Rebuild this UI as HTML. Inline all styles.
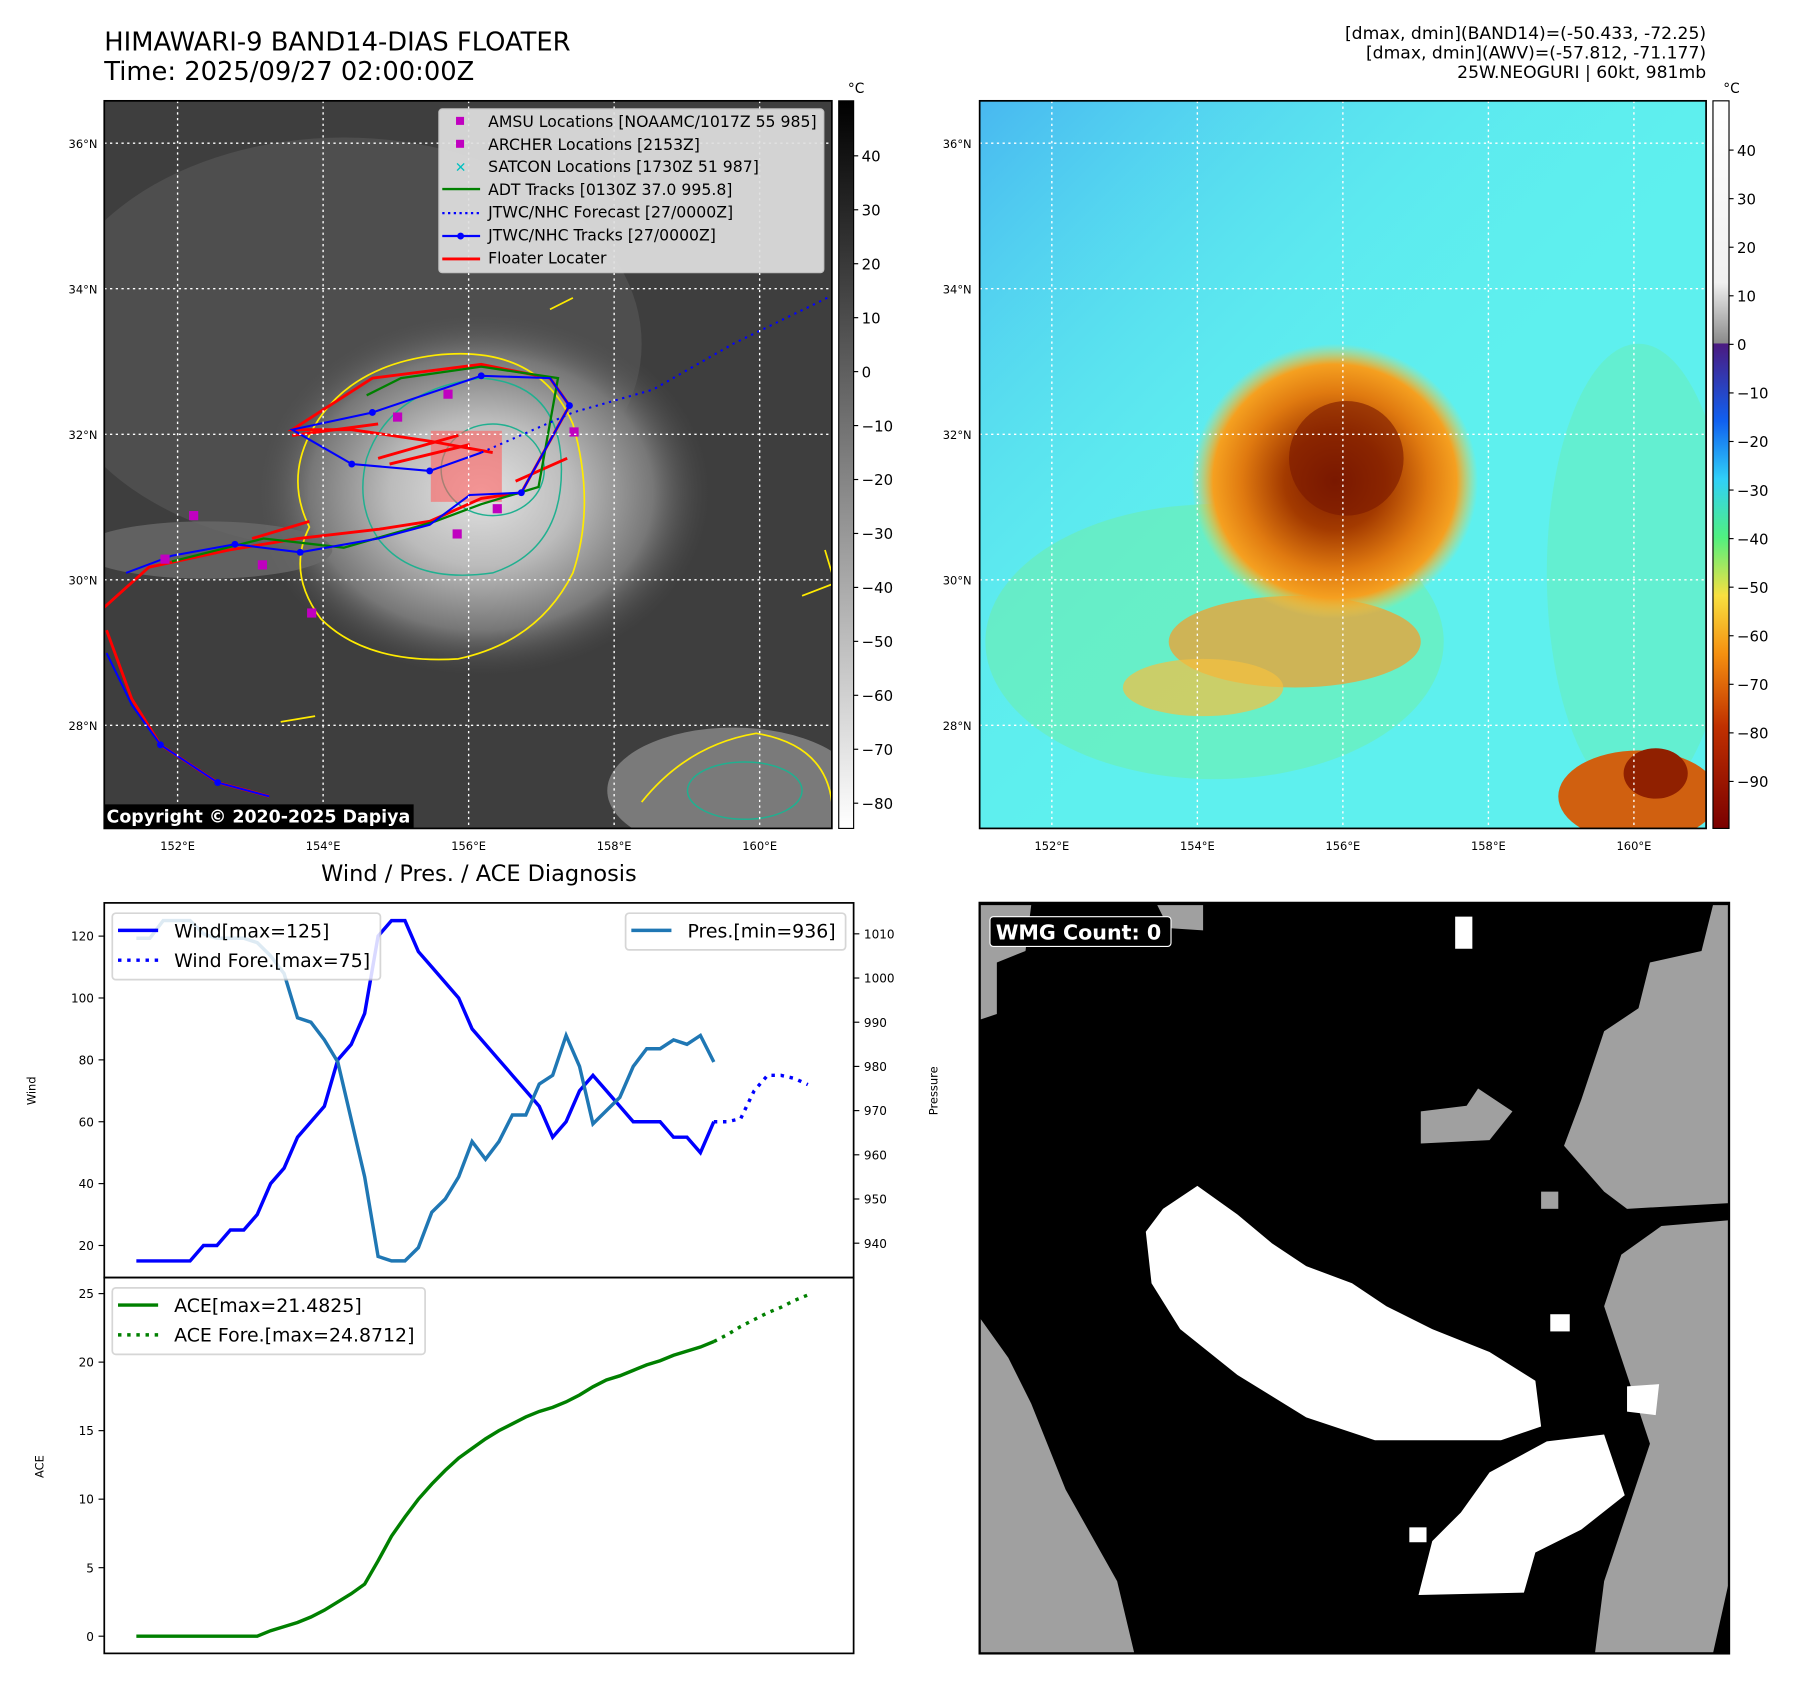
<!DOCTYPE html>
<html><head><meta charset="utf-8"><style>
html,body{margin:0;padding:0;background:#fff}
svg{display:block}
text{font-family:"DejaVu Sans","Liberation Sans",sans-serif}
</style></head><body>
<svg id="root" width="1797" height="1690" viewBox="0 0 1797 1690" xmlns="http://www.w3.org/2000/svg">
<defs>
<radialGradient id="irg" cx="0.5" cy="0.5" r="0.5">
<stop offset="0" stop-color="#e2e2e2"/><stop offset="0.4" stop-color="#bbbbbb"/><stop offset="0.75" stop-color="#777"/><stop offset="1" stop-color="#4a4a4a" stop-opacity="0"/></radialGradient>
<radialGradient id="storm" cx="0.5" cy="0.5" r="0.5">
<stop offset="0" stop-color="#7a1a00"/><stop offset="0.35" stop-color="#a33a00"/><stop offset="0.65" stop-color="#e07a10"/><stop offset="0.85" stop-color="#f5a020"/><stop offset="1" stop-color="#f8d040" stop-opacity="0"/></radialGradient>
<linearGradient id="bluetint" x1="0" y1="0" x2="1" y2="1">
<stop offset="0" stop-color="#48b8f0"/><stop offset="0.35" stop-color="#5ae0f0" stop-opacity="0.4"/><stop offset="0.6" stop-color="#5ff0f0" stop-opacity="0"/></linearGradient>
<linearGradient id="cbg" x1="0" y1="0" x2="0" y2="1"><stop offset="0" stop-color="#000"/><stop offset="1" stop-color="#fff"/></linearGradient>
<linearGradient id="cbc" x1="0" y1="0" x2="0" y2="1">
<stop offset="0" stop-color="#ffffff"/><stop offset="0.25" stop-color="#f0f0f0"/><stop offset="0.333" stop-color="#8a8a8a"/><stop offset="0.334" stop-color="#4b1a80"/>
<stop offset="0.44" stop-color="#1060f0"/><stop offset="0.52" stop-color="#30d0f8"/><stop offset="0.6" stop-color="#50f080"/>
<stop offset="0.68" stop-color="#f8e040"/><stop offset="0.76" stop-color="#f59010"/><stop offset="0.86" stop-color="#c03000"/><stop offset="1" stop-color="#7a0000"/></linearGradient>
</defs>
<g transform="scale(1.1458)">
<text x="91" y="44" font-size="22.5">HIMAWARI-9 BAND14-DIAS FLOATER</text>
<text x="91" y="70" font-size="22.5">Time: 2025/09/27 02:00:00Z</text>
<g font-size="15" text-anchor="end">
<text x="1489" y="34">[dmax, dmin](BAND14)=(-50.433, -72.25)</text>
<text x="1489" y="51">[dmax, dmin](AWV)=(-57.812, -71.177)</text>
<text x="1489" y="68">25W.NEOGURI | 60kt, 981mb</text>
</g>

<g>
<clipPath id="c1"><rect x="91" y="88" width="635" height="635"/></clipPath>
<g clip-path="url(#c1)">
<rect x="91" y="88" width="635" height="635" fill="#3e3e3e"/>
<ellipse cx="300" cy="300" rx="260" ry="180" fill="#555" opacity="0.7"/>
<ellipse cx="420" cy="430" rx="200" ry="160" fill="url(#irg)"/>
<ellipse cx="640" cy="690" rx="110" ry="55" fill="#7a7a7a"/>
<ellipse cx="180" cy="480" rx="110" ry="25" fill="#6a6a6a" opacity="0.8"/>
<g fill="none" stroke="#ffeb00" stroke-width="1.5">
<path d="M270 380 Q300 320 380 310 Q470 300 500 370 Q520 440 500 500 Q470 560 400 575 Q320 580 280 540 Q250 500 270 460 Q250 420 270 380Z"/>
<path d="M560 700 Q600 650 660 640 Q720 650 726 700 M720 480 L726 500 M700 520 L726 510 M245 630 L275 625 M480 270 L500 260"/>
</g>
<g fill="none" stroke="#20b090" stroke-width="1.3">
<path d="M320 400 Q340 340 420 330 Q490 335 490 410 Q490 480 430 500 Q360 510 330 470 Q310 440 320 400Z"/>
<ellipse cx="430" cy="410" rx="45" ry="40"/>
<ellipse cx="650" cy="690" rx="50" ry="25"/>
</g>
<rect x="376" y="376" width="62" height="62" fill="#ff6060" opacity="0.6"/>
<g fill="none" stroke="#ff0000" stroke-width="2.5">
<polyline points="91,530 130,495 200,480 260,470 330,462 375,455 420,435 455,430 497,354 480,330 420,318 325,330 255,375 307,375 375,385 430,395"/>
<polyline points="93,550 115,610 140,650 190,683 235,695"/>
<path d="M330 400 L400 380 M340 405 L410 388 M450 420 L495 400 M220 470 L270 455 M255 380 L330 370"/>
</g>
<g fill="none" stroke="#008000" stroke-width="2">
<polyline points="150,490 230,470 300,478 380,455 420,440 470,425 487,330 420,320 350,330 320,345"/>
</g>
<g fill="none" stroke="#0000ff" stroke-width="1.8">
<polyline points="93,570 115,615 140,650 190,683 235,695"/>
<polyline points="110,500 150,485 205,475 262,482 330,470 375,458 410,432 455,430 497,354 480,330 420,328 325,360 255,375 307,405 375,411 420,395"/>
<polyline points="420,395 500,360 570,340 640,300 726,258" stroke-dasharray="2,4"/>
</g>
<g fill="#0000ff"><circle cx="497" cy="354" r="3"/><circle cx="455" cy="430" r="3"/><circle cx="375" cy="411" r="3"/><circle cx="307" cy="405" r="3"/><circle cx="262" cy="482" r="3"/><circle cx="205" cy="475" r="3"/><circle cx="420" cy="328" r="3"/><circle cx="325" cy="360" r="3"/><circle cx="140" cy="650" r="3"/><circle cx="190" cy="683" r="3"/></g>
<g fill="#c000c0"><rect x="165" y="446" width="8" height="8"/><rect x="225" y="489" width="8" height="8"/><rect x="268" y="531" width="8" height="8"/><rect x="343" y="360" width="8" height="8"/><rect x="387" y="340" width="8" height="8"/><rect x="430" y="440" width="8" height="8"/><rect x="497" y="373" width="8" height="8"/><rect x="395" y="462" width="8" height="8"/><rect x="140" y="484" width="8" height="8"/></g>
<g stroke="#fff" stroke-width="1.2" stroke-dasharray="2,3">
<line x1="155" y1="88" x2="155" y2="723"/><line x1="282" y1="88" x2="282" y2="723"/><line x1="409" y1="88" x2="409" y2="723"/><line x1="536" y1="88" x2="536" y2="723"/><line x1="663" y1="88" x2="663" y2="723"/>
<line x1="91" y1="125" x2="726" y2="125"/><line x1="91" y1="252" x2="726" y2="252"/><line x1="91" y1="379" x2="726" y2="379"/><line x1="91" y1="506" x2="726" y2="506"/><line x1="91" y1="633" x2="726" y2="633"/>
</g>
</g>
<rect x="91" y="88" width="635" height="635" fill="none" stroke="#000" stroke-width="1.5"/>
<g>
<rect x="383" y="95" width="336" height="143" rx="3" fill="#e0e0e0" opacity="0.92" stroke="#ccc"/>
<g font-size="13.7">
<rect x="398" y="102" width="7" height="7" fill="#c000c0"/><text x="426" y="111">AMSU Locations [NOAAMC/1017Z 55 985]</text>
<rect x="398" y="122" width="7" height="7" fill="#c000c0"/><text x="426" y="131">ARCHER Locations [2153Z]</text>
<text x="397" y="150" fill="#00c0c0" font-weight="bold" font-size="12">✕</text><text x="426" y="150">SATCON Locations [1730Z 51 987]</text>
<line x1="386" y1="165" x2="419" y2="165" stroke="#008000" stroke-width="2"/><text x="426" y="170">ADT Tracks [0130Z 37.0 995.8]</text>
<line x1="386" y1="186" x2="419" y2="186" stroke="#0000ff" stroke-width="2" stroke-dasharray="2,3"/><text x="426" y="190">JTWC/NHC Forecast [27/0000Z]</text>
<line x1="386" y1="206" x2="419" y2="206" stroke="#0000ff" stroke-width="2"/><circle cx="402" cy="206" r="3" fill="#0000ff"/><text x="426" y="210">JTWC/NHC Tracks [27/0000Z]</text>
<line x1="386" y1="226" x2="419" y2="226" stroke="#ff0000" stroke-width="2.5"/><text x="426" y="230">Floater Locater</text>
</g></g>
<rect x="91" y="702" width="270" height="21" fill="#000"/>
<text x="93" y="718" fill="#fff" font-size="15.2" font-weight="bold">Copyright © 2020-2025 Dapiya</text>
<g font-size="10" text-anchor="end">
<text x="85" y="129">36°N</text><text x="85" y="256">34°N</text><text x="85" y="383">32°N</text><text x="85" y="510">30°N</text><text x="85" y="637">28°N</text></g>
<g font-size="10" text-anchor="middle">
<text x="155" y="742">152°E</text><text x="282" y="742">154°E</text><text x="409" y="742">156°E</text><text x="536" y="742">158°E</text><text x="663" y="742">160°E</text></g>
</g>
<g>
<rect x="732" y="88" width="13" height="635" fill="url(#cbg)" stroke="#000"/>
<text x="740" y="81" font-size="12">°C</text>
<g font-size="13" id="cb1"></g>
</g>

<g>
<clipPath id="c2"><rect x="855" y="88" width="634" height="635"/></clipPath>
<g clip-path="url(#c2)">
<rect x="855" y="88" width="634" height="635" fill="#5ef0ee"/>
<rect x="855" y="88" width="634" height="635" fill="url(#bluetint)"/>
<ellipse cx="1060" cy="560" rx="200" ry="120" fill="#78f080" opacity="0.35"/>
<ellipse cx="1430" cy="500" rx="80" ry="200" fill="#70ee90" opacity="0.3"/>
<ellipse cx="1130" cy="560" rx="110" ry="40" fill="#f0a030" opacity="0.75"/>
<ellipse cx="1050" cy="600" rx="70" ry="25" fill="#f5c040" opacity="0.7"/>
<ellipse cx="1165" cy="420" rx="125" ry="120" fill="url(#storm)"/>
<ellipse cx="1175" cy="400" rx="50" ry="50" fill="#7a1800" opacity="0.6"/>
<ellipse cx="1430" cy="695" rx="70" ry="40" fill="#d06010"/>
<ellipse cx="1445" cy="675" rx="28" ry="22" fill="#902000"/>
<g stroke="#fff" stroke-width="1.2" stroke-dasharray="2,3">
<line x1="918" y1="88" x2="918" y2="723"/><line x1="1045" y1="88" x2="1045" y2="723"/><line x1="1172" y1="88" x2="1172" y2="723"/><line x1="1299" y1="88" x2="1299" y2="723"/><line x1="1426" y1="88" x2="1426" y2="723"/>
<line x1="855" y1="125" x2="1489" y2="125"/><line x1="855" y1="252" x2="1489" y2="252"/><line x1="855" y1="379" x2="1489" y2="379"/><line x1="855" y1="506" x2="1489" y2="506"/><line x1="855" y1="633" x2="1489" y2="633"/>
</g></g>
<rect x="855" y="88" width="634" height="635" fill="none" stroke="#000" stroke-width="1.5"/>
<g font-size="10" text-anchor="end">
<text x="848" y="129">36°N</text><text x="848" y="256">34°N</text><text x="848" y="383">32°N</text><text x="848" y="510">30°N</text><text x="848" y="637">28°N</text></g>
<g font-size="10" text-anchor="middle">
<text x="918" y="742">152°E</text><text x="1045" y="742">154°E</text><text x="1172" y="742">156°E</text><text x="1299" y="742">158°E</text><text x="1426" y="742">160°E</text></g>
</g>
<g>
<rect x="1495" y="88" width="14" height="635" fill="url(#cbc)" stroke="#000"/>
<text x="1504" y="81" font-size="12">°C</text>
<g font-size="13" id="cb2"></g>
</g>

<text x="418" y="769" font-size="19.6" text-anchor="middle">Wind / Pres. / ACE Diagnosis</text>
<g id="windPanel"></g>
<g id="acePanel"></g>
<rect x="91" y="788" width="654" height="327" fill="none" stroke="#000" stroke-width="1.5"/>
<rect x="91" y="1115" width="654" height="328" fill="none" stroke="#000" stroke-width="1.5"/>
<text transform="translate(31,952) rotate(-90)" font-size="10" text-anchor="middle">Wind</text>
<text transform="translate(818,952) rotate(-90)" font-size="10" text-anchor="middle">Pressure</text>
<text transform="translate(38,1280) rotate(-90)" font-size="10" text-anchor="middle">ACE</text>

<g>
<rect x="855" y="788" width="654" height="655" fill="#000"/>
<g fill="#a0a0a0">
<polygon points="855,1150 880,1185 900,1225 930,1300 975,1380 990,1443 855,1443"/>
<polygon points="855,790 900,790 895,830 870,840 870,885 855,890"/>
<polygon points="1050,790 1010,790 1020,810 1050,812"/>
<polygon points="1509,790 1495,790 1485,830 1440,840 1430,880 1400,900 1380,960 1365,1000 1400,1040 1420,1055 1509,1050"/>
<polygon points="1509,1065 1450,1070 1415,1095 1400,1140 1420,1200 1440,1260 1420,1320 1400,1380 1392,1443 1495,1443 1509,1380"/>
<polygon points="1240,970 1280,965 1290,950 1320,970 1300,995 1240,998"/>
<rect x="1345" y="1040" width="15" height="15"/>
</g>
<g fill="#fff">
<polygon points="1000,1075 1015,1055 1045,1035 1080,1060 1110,1085 1140,1105 1180,1120 1210,1140 1250,1160 1300,1180 1340,1205 1345,1245 1310,1257 1200,1257 1140,1237 1080,1200 1030,1160 1005,1120"/>
<polygon points="1238,1392 1250,1345 1275,1320 1300,1285 1350,1258 1400,1252 1418,1305 1380,1335 1340,1355 1330,1390"/>
<polygon points="1270,800 1285,800 1285,828 1270,828"/>
<polygon points="1420,1210 1448,1208 1445,1235 1420,1232"/>
<rect x="1353" y="1147" width="17" height="15"/>
<rect x="1230" y="1333" width="15" height="13"/>
</g>
<rect x="855" y="788" width="654" height="655" fill="none" stroke="#000" stroke-width="2"/>
<rect x="864" y="800" width="158" height="26" fill="#000" stroke="#fff" stroke-width="1" rx="3"/>
<text x="869" y="820" fill="#fff" font-size="18" font-weight="bold">WMG Count: 0</text>
</g>
</g>
</svg>
<script>
const windVals=[15,15,15,15,15,20,20,25,25,30,40,45,55,60,65,80,85,95,120,125,125,115,110,105,100,90,85,80,75,70,65,55,60,70,75,70,65,60,60,60,55,55,50,60];
const windFore=[60,60,61,70,75,75,74,72];
const presVals=[1009,1009,1013,1013,1013,1010,1009,1009,1009,1008,1005,1001,991,990,986,981,968,955,937,936,936,939,947,950,955,963,959,963,969,969,976,978,987,980,967,970,973,980,984,984,986,985,987,981];
const aceVals=[0,0,0,0,0,0,0,0,0,0,0.4,0.7,1.0,1.4,1.9,2.5,3.1,3.8,5.5,7.3,8.7,10,11.1,12.1,13,13.7,14.4,15,15.5,16,16.4,16.7,17.1,17.6,18.2,18.7,19,19.4,19.8,20.1,20.5,20.8,21.1,21.5];
const aceFore=[21.5,22.0,22.6,23.1,23.6,24.0,24.5,24.9];
const windTicks=[20,40,60,80,100,120];
const presTicks=[940,950,960,970,980,990,1000,1010];
const aceTicks=[0,5,10,15,20,25];
const cb1Ticks=[40,30,20,10,0,-10,-20,-30,-40,-50,-60,-70,-80];
const cb2Ticks=[40,30,20,10,0,-10,-20,-30,-40,-50,-60,-70,-80,-90];

const NS='http://www.w3.org/2000/svg';
const foreStart=windVals.length-1;
function xs(i){return 119+(623-119)/43*i;}
function yw(v){return 1087+(v-20)*(817-1087)/100;}
function yp(v){return 1085+(v-940)*(815-1085)/70;}
function ya(v){return 1428+v*(1129-1428)/25;}
function mk(tag,attrs,parent){const e=document.createElementNS(NS,tag);for(const k in attrs)e.setAttribute(k,attrs[k]);parent.appendChild(e);return e;}
function pts(arr,off,yf){return arr.map((v,i)=>xs(i+off)+','+yf(v)).join(' ');}

const wp=document.getElementById('windPanel');
const ap=document.getElementById('acePanel');
windTicks.forEach(t=>{const g=mk('g',{},wp);


mk('line',{x1:86,x2:91,y1:yw(t),y2:yw(t),stroke:'#000'},g);const tx=mk('text',{x:82,y:yw(t)+4,'font-size':10.5,'text-anchor':'end'},g);tx.textContent=t;});
presTicks.forEach(t=>{const g=mk('g',{},wp);


mk('line',{x1:745,x2:750,y1:yp(t),y2:yp(t),stroke:'#000'},g);const tx=mk('text',{x:754,y:yp(t)+4,'font-size':10.5},g);tx.textContent=t;});
aceTicks.forEach(t=>{const g=mk('g',{},ap);


mk('line',{x1:86,x2:91,y1:ya(t),y2:ya(t),stroke:'#000'},g);const tx=mk('text',{x:82,y:ya(t)+4,'font-size':10.5,'text-anchor':'end'},g);tx.textContent=t;});
let e;
e=mk('polyline',{points:pts(windVals,0,yw),fill:'none',stroke:'#0000ff','stroke-width':3},wp);


e=mk('polyline',{points:pts(windFore,foreStart,yw),fill:'none',stroke:'#0000ff','stroke-width':3,'stroke-dasharray':'3,5'},wp);


e=mk('polyline',{points:pts(presVals,0,yp),fill:'none',stroke:'#1f77b4','stroke-width':3},wp);


e=mk('polyline',{points:pts(aceVals,0,ya),fill:'none',stroke:'#008000','stroke-width':3},ap);


e=mk('polyline',{points:pts(aceFore,foreStart,ya),fill:'none',stroke:'#008000','stroke-width':3,'stroke-dasharray':'3,5'},ap);


function legend(parent,x,y,w,rows,color,name){const g=mk('g',{},parent);


mk('rect',{x:x,y:y,width:w,height:rows.length*26+6,rx:3,fill:'#fff',opacity:0.85,stroke:'#d0d0d0','stroke-width':1.5},g);
rows.forEach((r,i)=>{const cy=y+15+i*26;mk('line',{x1:x+5,x2:x+40,y1:cy,y2:cy,stroke:color,'stroke-width':3,'stroke-dasharray':r[1]?'3,5':'none'},g);const t=mk('text',{x:x+54,y:cy+6,'font-size':16.5},g);t.textContent=r[0];});}
legend(wp,98,797,234,[['Wind[max=125]',false],['Wind Fore.[max=75]',true]],'#0000ff','wind-legend');
legend(wp,546,797,192,[['Pres.[min=936]',false]],'#1f77b4','pressure-legend');
legend(ap,98,1124,273,[['ACE[max=21.4825]',false],['ACE Fore.[max=24.8712]',true]],'#008000','ace-legend');
const c1=document.getElementById('cb1');
cb1Ticks.forEach(t=>{const y=136+(40-t)*(701-136)/120;mk('line',{x1:745,x2:749,y1:y,y2:y,stroke:'#000'},c1);const tx=mk('text',{x:752,y:y+5},c1);tx.textContent=t<0?'\u2212'+(-t):t;});
const c2=document.getElementById('cb2');
cb2Ticks.forEach(t=>{const y=131+(40-t)*(682-131)/130;mk('line',{x1:1509,x2:1513,y1:y,y2:y,stroke:'#000'},c2);const tx=mk('text',{x:1516,y:y+5},c2);tx.textContent=t<0?'\u2212'+(-t):t;});
</script>
</body></html>
